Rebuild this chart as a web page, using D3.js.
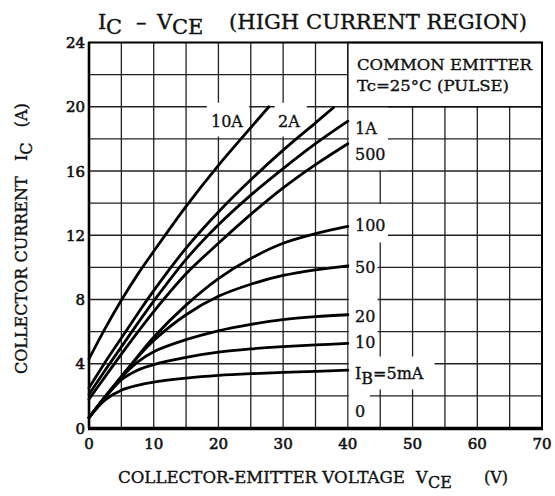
<!DOCTYPE html>
<html>
<head>
<meta charset="utf-8">
<script src="https://cdn.jsdelivr.net/npm/d3@7"></script>
<style>
    body { margin: 0; background: #fff; }
    text { font-family: 'DejaVu Serif', serif; fill: #111; stroke: #111; stroke-width: 0.35px; white-space: pre; }
</style>
</head>
<body>
<div id="chart"></div>
<script>
const xTicks = [0, 10, 20, 30, 40, 50, 60, 70]
const yTicks = [0, 4, 8, 12, 16, 20, 24]

const vceSteps = [0, 2.5, 5, 7.5, 10, 15, 20, 25, 30, 35, 40]
const ic5mA   = [0.65, 1.75, 2.35, 2.65, 2.85, 3.1, 3.27, 3.38, 3.46, 3.53, 3.6]
const ic10mA  = [0.65, 1.9, 3.0, 3.6, 3.95, 4.4, 4.72, 4.92, 5.06, 5.17, 5.27]
const ic20mA  = [0.65, 1.95, 3.15, 4.1, 4.75, 5.5, 6.05, 6.45, 6.75, 6.93, 7.05]
const ic50mA  = [0.65, 1.95, 3.2, 4.4, 5.45, 7.05, 8.2, 8.95, 9.5, 9.85, 10.1]
const ic100mA = [0.65, 1.95, 3.2, 4.45, 5.65, 7.65, 9.3, 10.55, 11.5, 12.1, 12.55]
const ic500mA = [1.8, 3.2, 4.6, 5.95, 7.25, 9.6, 11.5, 13.3, 14.95, 16.4, 17.7]
const ic1A    = [2.1, 3.6, 5.05, 6.5, 7.9, 10.5, 12.65, 14.5, 16.15, 17.7, 19.1]

const vce2A = [0, 2.5, 5, 7.5, 10, 15, 20, 25, 30, 35, 37.8]
const ic2A  = [2.5, 4.1, 5.6, 7.1, 8.55, 11.2, 13.45, 15.45, 17.3, 19.0, 19.95]

const vce10A = [0, 2.5, 5, 7.5, 10, 15, 20, 25, 27.8]
const ic10A  = [4.3, 6.2, 7.95, 9.55, 11.0, 13.8, 16.35, 18.7, 20.0]

const curves = [
    [vce10A, ic10A], [vce2A, ic2A], [vceSteps, ic1A], [vceSteps, ic500mA],
    [vceSteps, ic100mA], [vceSteps, ic50mA], [vceSteps, ic20mA],
    [vceSteps, ic10mA], [vceSteps, ic5mA]
]

const width = 555, height = 496
const margin = {left: 89, top: 42.5, right: 13, bottom: 68}
const svg = d3.select('#chart')
    .append('svg')
        .attr('width', width)
        .attr('height', height)

const xScale = d3.scaleLinear().domain([0, 70]).range([margin.left, width - margin.right])
const yScale = d3.scaleLinear().domain([0, 24]).range([height - margin.bottom, margin.top])

// grid
const grid = svg.append('g').attr('class', 'grid')
    .style('stroke', '#222').style('stroke-width', 1.3)
d3.range(5, 70, 5).forEach((v) => {
    grid.append('line')
        .attr('x1', xScale(v)).attr('x2', xScale(v))
        .attr('y1', yScale(0)).attr('y2', yScale(24))
})
d3.range(2, 24, 2).forEach((i) => {
    grid.append('line')
        .attr('x1', xScale(0)).attr('x2', xScale(70))
        .attr('y1', yScale(i)).attr('y2', yScale(i))
})

// white gaps behind the labels (V0, V1, I0, I1)
const gaps = [
    [18.2, 24.75, 18.15, 20.25], [28.7, 33.65, 18.15, 20.25],
    [40.15, 46.2, 16.05, 20], [40.15, 46.2, 11.55, 13.95],
    [40.15, 44.6, 4.5, 11.55], [40.15, 53.4, 2.4, 4.45], [40.15, 43.4, 0.1, 2.4]
]
svg.append('g').selectAll('rect')
    .data(gaps)
    .join('rect')
        .attr('x', (d) => xScale(d[0]))
        .attr('width', (d) => xScale(d[1]) - xScale(d[0]))
        .attr('y', (d) => yScale(d[3]))
        .attr('height', (d) => yScale(d[2]) - yScale(d[3]))
        .style('fill', '#fff')

// legend box
svg.append('rect')
    .attr('x', xScale(40)).attr('y', yScale(24))
    .attr('width', xScale(70) - xScale(40))
    .attr('height', yScale(20) - yScale(24))
    .style('fill', '#fff').style('stroke', '#111').style('stroke-width', 1.5)

// curves
const valueline = d3.line()
    .x((d) => xScale(d[0]))
    .y((d) => yScale(d[1]))
    .curve(d3.curveCatmullRom.alpha(0.5))
svg.append('g').selectAll('path')
    .data(curves)
    .join('path')
        .attr('d', ([xs, ys]) => valueline(xs.map((v, i) => [v, ys[i]])))
        .style('fill', 'none')
        .style('stroke', '#000')
        .style('stroke-width', 2.8)
        .style('stroke-linecap', 'round')

// frame
const frame = svg.append('g').style('stroke', '#000')
frame.append('rect')
    .attr('x', xScale(0)).attr('y', yScale(24))
    .attr('width', xScale(70) - xScale(0))
    .attr('height', yScale(0) - yScale(24))
    .style('fill', 'none').style('stroke-width', 2)
frame.append('line')
    .attr('x1', xScale(0) - 1).attr('x2', xScale(70) + 1)
    .attr('y1', yScale(0) + 0.5).attr('y2', yScale(0) + 0.5)
    .style('stroke-width', 3.5)
frame.append('line')
    .attr('x1', xScale(0)).attr('x2', xScale(0))
    .attr('y1', yScale(0)).attr('y2', yScale(24))
    .style('stroke-width', 2.6)

// ticks
svg.append('g').selectAll('text')
    .data(yTicks)
    .join('text')
        .attr('x', xScale(0) - 4)
        .attr('y', (d) => yScale(d) + 5.5)
        .attr('text-anchor', 'end')
        .style('font-size', '15px')
        .style('stroke-width', '0.6px')
        .text((d) => d)
svg.append('g').selectAll('text')
    .data(xTicks)
    .join('text')
        .attr('x', (d) => xScale(d))
        .attr('y', yScale(0) + 21)
        .attr('text-anchor', 'middle')
        .style('font-size', '15px')
        .style('stroke-width', '0.6px')
        .text((d) => d)

// curve labels
const label = (x, y, txt) => svg.append('text')
    .attr('x', x).attr('y', y)
    .style('font-size', '16px')
    .text(txt)
label(211, 127, '10A')
label(278, 127, '2A')
label(355, 134, '1A')
label(355, 159.5, '500')
label(355, 230.5, '100')
label(355, 273, '50')
label(355, 322, '20')
label(355, 348, '10')
label(355, 417, '0')
const ib = svg.append('text').attr('x', 355).attr('y', 378.5).style('font-size', '16px')
ib.append('tspan').text('I')
ib.append('tspan').attr('dy', 5).text('B')
ib.append('tspan').attr('dy', -5).text('=5mA')

// legend text
svg.append('text').attr('x', 357).attr('y', 70)
    .style('font-size', '15px')
    .attr('textLength', 175).attr('lengthAdjust', 'spacingAndGlyphs')
    .text('COMMON EMITTER')
svg.append('text').attr('x', 357).attr('y', 91)
    .style('font-size', '15px')
    .attr('textLength', 152).attr('lengthAdjust', 'spacingAndGlyphs')
    .text('Tc=25°C (PULSE)')

// title
const titleText = (x, y, size, txt) => svg.append('text')
    .attr('x', x).attr('y', y)
    .style('font-size', size + 'px')
    .text(txt)
titleText(98, 29, 21, 'I')
titleText(106, 34, 21, 'C')
titleText(136, 29, 21, '–')
titleText(157, 29, 21, 'V')
titleText(172, 34, 21, 'CE')
titleText(229, 29, 21, '(HIGH CURRENT REGION)')
    .attr('textLength', 298).attr('lengthAdjust', 'spacingAndGlyphs')

// axis titles
svg.append('text').attr('x', 118).attr('y', 483)
    .style('font-size', '16px')
    .attr('textLength', 287).attr('lengthAdjust', 'spacingAndGlyphs')
    .text('COLLECTOR-EMITTER VOLTAGE')
svg.append('text').attr('x', 416).attr('y', 483).style('font-size', '16px').text('V')
svg.append('text').attr('x', 428).attr('y', 488).style('font-size', '16px').text('CE')
svg.append('text').attr('x', 484).attr('y', 483).style('font-size', '16px').text('(V)')

const yTitle = svg.append('text')
    .attr('transform', 'translate(27,374) rotate(-90)')
    .style('font-size', '16px')
yTitle.append('tspan').text('COLLECTOR CURRENT   I')
yTitle.append('tspan').attr('dy', 5).text('C')
yTitle.append('tspan').attr('dy', -5).text('   (A)')
</script>
</body>
</html>
